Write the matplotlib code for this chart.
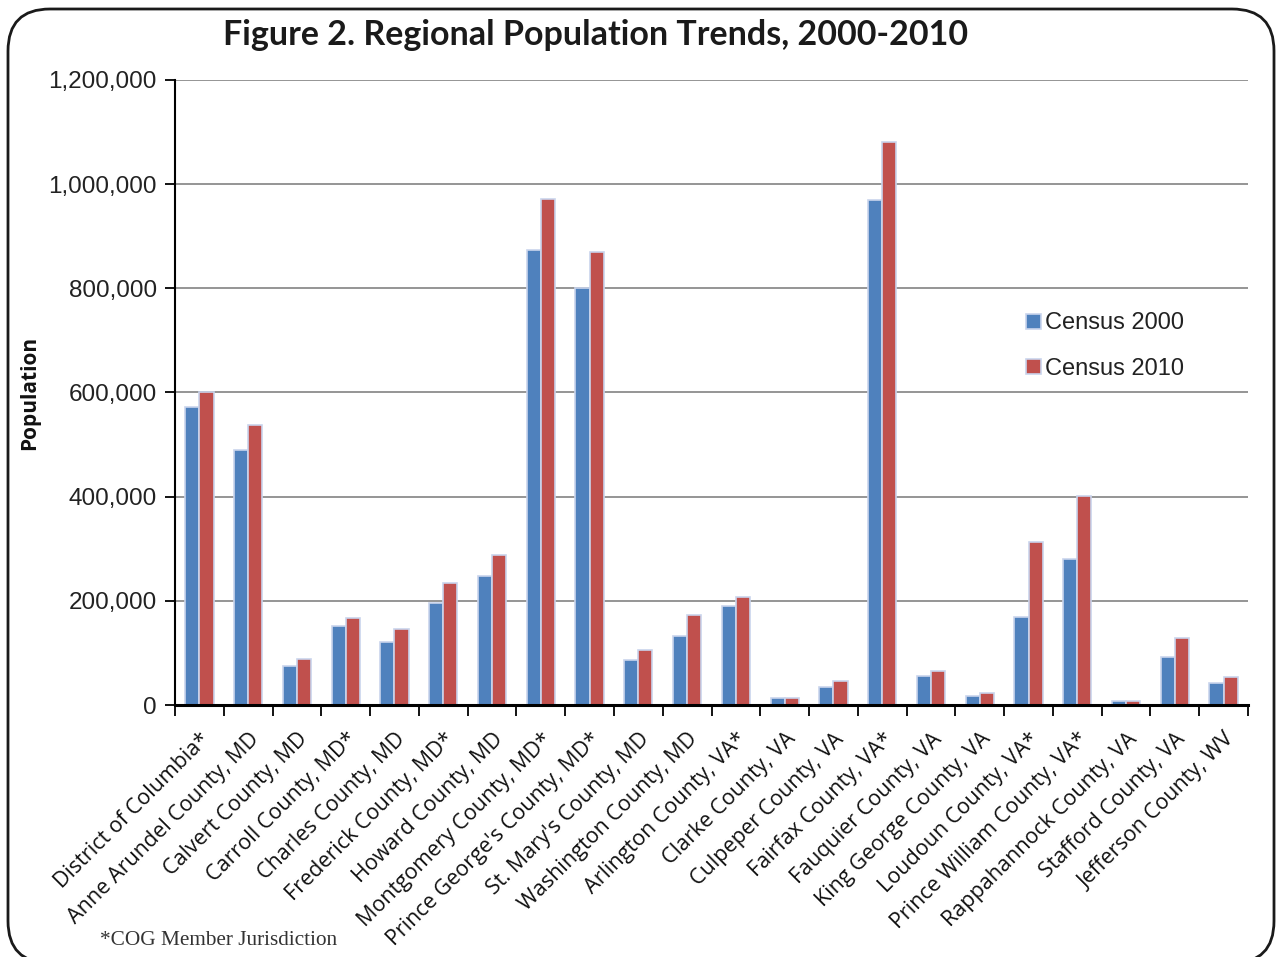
import matplotlib
matplotlib.use("Agg")
import matplotlib.pyplot as plt
import numpy as np
from matplotlib.patches import FancyBboxPatch
from matplotlib.transforms import IdentityTransform
from matplotlib.ticker import FuncFormatter, FixedLocator

jurisdictions = [
    "District of Columbia*", "Anne Arundel County, MD", "Calvert County, MD",
    "Carroll County, MD*", "Charles County, MD", "Frederick County, MD*",
    "Howard County, MD", "Montgomery County, MD*", "Prince George's County, MD*",
    "St. Mary's County, MD", "Washington County, MD", "Arlington County, VA*",
    "Clarke County, VA", "Culpeper County, VA", "Fairfax County, VA*",
    "Fauquier County, VA", "King George County, VA", "Loudoun County, VA*",
    "Prince William County, VA*", "Rappahannock County, VA", "Stafford County, VA",
    "Jefferson County, WV",
]
census_2000 = [572059, 489656, 74563, 150897, 120546, 195277, 247842, 873341,
               801515, 86211, 131923, 189453, 12652, 34262, 969749, 55139,
               16803, 169599, 280813, 6983, 92446, 42190]
census_2010 = [601723, 537656, 88737, 167134, 146551, 233385, 287085, 971777,
               869000, 105151, 173000, 207627, 14034, 46689, 1081726, 65203,
               23584, 312311, 402002, 7373, 128961, 53498]
series_labels = ["Census 2000", "Census 2010"]
y_ticks = [0, 200000, 400000, 600000, 800000, 1000000, 1200000]

W, H, DPI = 1276, 957, 100
fig = plt.figure(figsize=(W / DPI, H / DPI), dpi=DPI)
ax = fig.add_axes([175 / W, 1 - 705 / H, (1248 - 175) / W, (705 - 80) / H])

x = np.arange(len(jurisdictions))
bw = 0.29
blue, red, edge = "#4F81BD", "#C0504D", "#C9D4EC"
ax.bar(x - bw / 2, census_2000, bw, color=blue, edgecolor=edge, linewidth=1.2,
       label=series_labels[0], zorder=3)
ax.bar(x + bw / 2, census_2010, bw, color=red, edgecolor=edge, linewidth=1.2,
       label=series_labels[1], zorder=3)

ax.set_xlim(-0.5, len(jurisdictions) - 0.5)
ax.set_ylim(0, 1200000)

ax.set_yticks(y_ticks)
ax.yaxis.set_major_formatter(FuncFormatter(lambda v, p: f"{int(v):,}"))
ax.tick_params(axis="y", direction="out", length=7, width=1.3, pad=6,
               labelsize=17.5, labelcolor="#222222")
for lab in ax.get_yticklabels():
    lab.set_fontfamily("Liberation Sans")
ax.grid(axis="y", color="#8C8C8C", linewidth=1.3, zorder=0)
ax.set_axisbelow(True)

ax.set_xticks(x)
ax.set_xticklabels(jurisdictions, rotation=45, ha="right", va="top",
                   rotation_mode="anchor", fontsize=15.5, family="Open Sans",
                   color="#111111")
ax.tick_params(axis="x", length=0, pad=17)
ax.xaxis.set_minor_locator(FixedLocator(np.arange(-0.5, len(jurisdictions), 1.0)))
ax.tick_params(axis="x", which="minor", direction="out", length=8, width=1.3)

for s in ["top", "right"]:
    ax.spines[s].set_visible(False)
ax.spines["left"].set_linewidth(1.5)
ax.spines["bottom"].set_linewidth(2.2)
ax.spines["bottom"].set_zorder(4)

leg = ax.legend(loc="upper left", bbox_to_anchor=((1017 - 175) / (1248 - 175), (705 - 303) / 625),
                frameon=False, fontsize=17, handlelength=0.6, handleheight=0.6,
                handletextpad=0.2, labelspacing=1.0, borderaxespad=0)
for t in leg.get_texts():
    t.set_fontfamily("Liberation Sans")
    t.set_color("#222222")

fig.text(596 / W, 1 - 45 / H, "Figure 2. Regional Population Trends, 2000-2010",
         ha="center", va="baseline", fontsize=24.5, fontweight="bold",
         family="Lato", color="#1a1a1a")
fig.text(30 / W, 1 - 393 / H, "Population", rotation=90, ha="center", va="center",
         fontsize=15, fontweight="bold", family="Open Sans", color="#111111")
fig.text(100 / W, 1 - 945 / H, "*COG Member Jurisdiction", ha="left", va="baseline",
         fontsize=15.3, family="Liberation Serif", color="#333333")

# rounded frame around the whole figure (pixel coordinates)
frame = FancyBboxPatch((8, -6), 1266, H - 9 + 6,
                       boxstyle="round,pad=0,rounding_size=42",
                       transform=IdentityTransform(), fill=False,
                       edgecolor="#1a1a1a", linewidth=2.0, clip_on=False)
fig.patches.append(frame)

fig.savefig("out.png", dpi=DPI)
